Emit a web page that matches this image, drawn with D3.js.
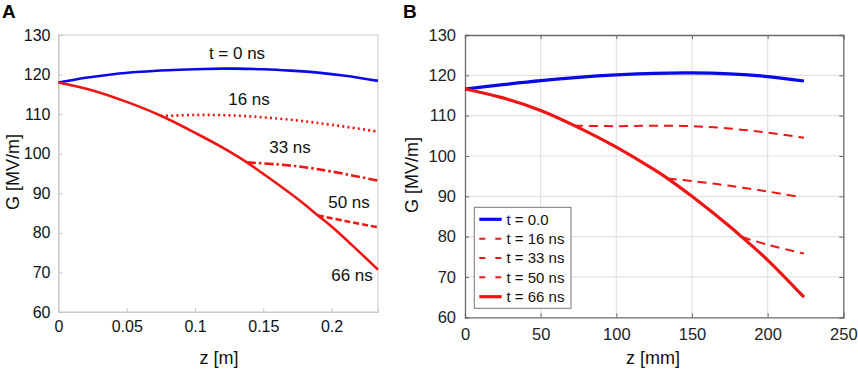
<!DOCTYPE html>
<html><head><meta charset="utf-8">
<script src="https://cdn.jsdelivr.net/npm/d3@7"></script>
<style>body{margin:0;background:#fff;} svg{display:block;font-family:"Liberation Sans",Arial,sans-serif;}</style>
</head><body><svg id="c" width="858" height="371"></svg>
<script>
// ---- Panel A data (z in m, G in MV/m)
const aT0 = [[0,118.0],[0.02,119.2],[0.04,120.1],[0.06,120.7],[0.08,121.1],[0.10,121.35],[0.12,121.5],[0.13,121.5],[0.15,121.35],[0.17,121.0],[0.19,120.5],[0.21,119.7],[0.234,118.4]];
const aT66 = [[0,118.0],[0.025,116.0],[0.05,113.1],[0.075,109.6],[0.10,105.3],[0.125,100.6],[0.138,97.8],[0.15,94.9],[0.175,88.6],[0.19,84.4],[0.20,81.6],[0.215,76.9],[0.234,70.7]];
const aT16 = [[0.075,109.5],[0.10,109.8],[0.125,109.7],[0.15,109.2],[0.175,108.4],[0.20,107.3],[0.234,105.6]];
const aT33 = [[0.138,97.8],[0.16,97.3],[0.18,96.6],[0.20,95.5],[0.234,93.2]];
const aT50 = [[0.19,84.4],[0.21,83.0],[0.234,81.4]];
const aLabels = ["t = 0 ns","16 ns","33 ns","50 ns","66 ns"];
const aXTicks = [0,0.05,0.1,0.15,0.2];
const yTicks = [60,70,80,90,100,110,120,130];

// ---- Panel B data (z in mm, G in MV/m)
const bT0 = [[0,116.6],[25,117.7],[50,118.7],[75,119.5],[100,120.1],[125,120.5],[150,120.6],[175,120.35],[200,119.7],[224,118.6]];
const bT66 = [[0,116.6],[25,114.4],[50,111.3],[72,107.6],[100,102.2],[125,96.6],[134,94.4],[150,90.0],[175,82.5],[183,79.9],[200,74.2],[224,65.0]];
const bT16 = [[72,107.5],[100,107.4],[125,107.5],[150,107.4],[175,106.8],[200,105.8],[224,104.5]];
const bT33 = [[134,94.4],[150,93.8],[175,92.6],[200,91.2],[220,89.9]];
const bT50 = [[183,79.9],[200,78.0],[224,75.8]];
const bLegend = ["t = 0.0","t = 16 ns","t = 33 ns","t = 50 ns","t = 66 ns"];
const bXTicks = [0,50,100,150,200,250];

const BLUE="#0a0ae8", RED="#ee1515";
const svg = d3.select("#c");

// ===== Panel A
const ax = d3.scaleLinear().domain([0,0.234]).range([58.5,378]);
const ay = d3.scaleLinear().domain([60,130]).range([312,35]);
const gA = svg.append("g");
gA.append("rect").attr("x",58.5).attr("y",35).attr("width",378-58.5).attr("height",312-35)
  .attr("fill","none").attr("stroke","#c8c8c8").attr("stroke-width",1);
const axA = gA.append("g").attr("transform","translate(0,312)")
  .call(d3.axisBottom(ax).tickValues(aXTicks).tickSize(-4).tickPadding(9).tickFormat(d=>d===0?"0":String(d)));
const ayA = gA.append("g").attr("transform","translate(58.5,0)")
  .call(d3.axisLeft(ay).tickValues(yTicks).tickSize(-4).tickPadding(8));
[axA,ayA].forEach(g=>{g.select(".domain").attr("stroke","#c8c8c8");
  g.selectAll(".tick line").attr("stroke","#c8c8c8");
  g.selectAll(".tick text").attr("font-size",16).attr("fill","#111").attr("font-family","Liberation Sans, Arial, sans-serif");});
const lineA = d3.line().x(d=>ax(d[0])).y(d=>ay(d[1])).curve(d3.curveCatmullRom);
const aSeries = [
  {d:aT0,c:BLUE,w:2.6,dash:null},
  {d:aT16,c:RED,w:2.6,dash:"2,3.2"},
  {d:aT33,c:RED,w:2.6,dash:"9,3,2.5,3"},
  {d:aT50,c:RED,w:2.6,dash:"6,3"},
  {d:aT66,c:RED,w:2.6,dash:null}];
aSeries.forEach(s=>gA.append("path").datum(s.d).attr("d",lineA).attr("fill","none")
  .attr("stroke",s.c).attr("stroke-width",s.w).attr("stroke-dasharray",s.dash));
const aLabPos = [[237,59],[249,105],[290,153],[349,208],[352,281]];
aLabels.forEach((t,i)=>gA.append("text").attr("x",aLabPos[i][0]).attr("y",aLabPos[i][1])
  .attr("text-anchor","middle").attr("font-size",17).attr("fill","#111").text(t));
gA.append("text").attr("x",219).attr("y",364).attr("text-anchor","middle").attr("font-size",18).attr("fill","#111").text("z [m]");
gA.append("text").attr("transform","translate(19,172) rotate(-90)").attr("text-anchor","middle").attr("font-size",18).attr("fill","#111").text("G [MV/m]");
gA.append("text").attr("x",2).attr("y",18).attr("font-size",19).attr("font-weight","bold").attr("fill","#000").text("A");

// ===== Panel B
const bx = d3.scaleLinear().domain([0,250]).range([465,843.3]);
const by = d3.scaleLinear().domain([60,130]).range([317.3,35]);
const gB = svg.append("g");
// grid
gB.append("g").selectAll("line").data(bXTicks.slice(1,-1)).join("line")
  .attr("x1",d=>bx(d)).attr("x2",d=>bx(d)).attr("y1",35).attr("y2",317.3).attr("stroke","#e2e2e2").attr("stroke-width",1.2);
gB.append("g").selectAll("line").data(yTicks.slice(1,-1)).join("line")
  .attr("y1",d=>by(d)).attr("y2",d=>by(d)).attr("x1",465).attr("x2",843.3).attr("stroke","#e2e2e2").attr("stroke-width",1.2);
const axB = gB.append("g").attr("transform","translate(0,317.3)")
  .call(d3.axisBottom(bx).tickValues(bXTicks).tickSize(-4).tickPadding(11));
const ayB = gB.append("g").attr("transform","translate(465,0)")
  .call(d3.axisLeft(by).tickValues(yTicks).tickSize(-4).tickPadding(9));
const axBt = gB.append("g").attr("transform","translate(0,35)")
  .call(d3.axisTop(bx).tickValues(bXTicks).tickSize(-4).tickFormat(""));
const ayBr = gB.append("g").attr("transform","translate(843.3,0)")
  .call(d3.axisRight(by).tickValues(yTicks).tickSize(-4).tickFormat(""));
[axB,ayB,axBt,ayBr].forEach(g=>{g.select(".domain").attr("stroke","#6a6a6a").attr("stroke-width",1.3);
  g.selectAll(".tick line").attr("stroke","#6a6a6a");
  g.selectAll(".tick text").attr("font-size",16.5).attr("fill","#222").attr("font-family","Liberation Sans, Arial, sans-serif");});
const lineB = d3.line().x(d=>bx(d[0])).y(d=>by(d[1])).curve(d3.curveCatmullRom);
const bSeries = [
  {d:bT0,c:BLUE,w:3.2,dash:null,ld:null},
  {d:bT16,c:RED,w:2,dash:"9,6",ld:"6,10"},
  {d:bT33,c:RED,w:2,dash:"9,6",ld:"6,10"},
  {d:bT50,c:RED,w:2,dash:"9,6",ld:"6,10"},
  {d:bT66,c:RED,w:3.2,dash:null,ld:null}];
bSeries.forEach(s=>gB.append("path").datum(s.d).attr("d",lineB).attr("fill","none")
  .attr("stroke",s.c).attr("stroke-width",s.w).attr("stroke-dasharray",s.dash));
// legend
const lg = gB.append("g");
lg.append("rect").attr("x",474.3).attr("y",207.3).attr("width",96.7).attr("height",101).attr("fill","#fff").attr("stroke","#777").attr("stroke-width",1);
bSeries.forEach((s,i)=>{
  const y = 219.3 + i*19.35;
  lg.append("line").attr("x1",479.3).attr("x2",501.7).attr("y1",y).attr("y2",y)
    .attr("stroke",s.c).attr("stroke-width",s.w).attr("stroke-dasharray",s.ld);
  lg.append("text").attr("x",506.5).attr("y",y+5.3).attr("font-size",15).attr("fill","#111").text(bLegend[i]);
});
gB.append("text").attr("x",653).attr("y",364).attr("text-anchor","middle").attr("font-size",18).attr("fill","#111").text("z [mm]");
gB.append("text").attr("transform","translate(418,175) rotate(-90)").attr("text-anchor","middle").attr("font-size",18).attr("fill","#111").text("G [MV/m]");
gB.append("text").attr("x",403).attr("y",18).attr("font-size",19).attr("font-weight","bold").attr("fill","#000").text("B");
</script></body></html>
